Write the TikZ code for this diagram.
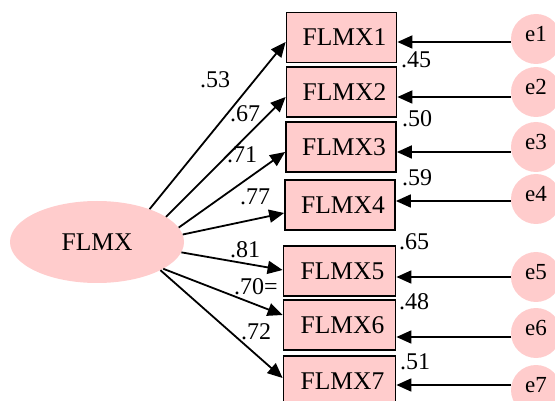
\documentclass[tikz,border=0pt]{standalone}
\usepackage{fontspec}
\setmainfont{Liberation Serif}
\usetikzlibrary{arrows.meta,shapes.geometric}
\definecolor{nodepink}{HTML}{FFCCCC}
\tikzset{
  obsbox/.style={draw=black, line width=1.8pt, fill=nodepink, minimum width=110pt,
    minimum height=50pt, inner sep=0pt, font=\fontsize{25.5}{25.5}\selectfont},
  latent/.style={ellipse, fill=nodepink, minimum width=174pt, minimum height=82pt,
    inner sep=0pt, font=\fontsize{25.5}{25.5}\selectfont},
  errnode/.style={circle, fill=nodepink, minimum size=50pt, inner sep=0pt,
    text depth=10pt, font=\fontsize{23}{23}\selectfont},
  path arrow/.style={line width=1.8pt, -{Triangle[length=15pt,width=13pt]}},
  coef/.style={inner sep=0pt, font=\fontsize{24}{24}\selectfont},
}
\begin{document}
\begin{tikzpicture}[x=1pt,y=-1pt]
\useasboundingbox (0,0) rectangle (555,401);
\clip (0,0) rectangle (555,401);

% latent factor
\node[latent] (fl) at (97,242) {FLMX};

% observed indicators
\node[obsbox] (b1) at (341.5,37.5) {\hspace{6pt}FLMX1};
\node[obsbox] (b2) at (341.5,92) {\hspace{6pt}FLMX2};
\node[obsbox] (b3) at (341,147) {\hspace{6pt}FLMX3};
\node[obsbox] (b4) at (340,205) {\hspace{6pt}FLMX4};
\node[obsbox, minimum width=112pt] (b5) at (339.5,271) {\hspace{6pt}FLMX5};
\node[obsbox, minimum width=112pt] (b6) at (339.5,325) {\hspace{6pt}FLMX6};
\node[obsbox, minimum width=112pt] (b7) at (339.5,381) {\hspace{6pt}FLMX7};

% error terms
\node[errnode] (e1) at (536,39) {e1};
\node[errnode] (e2) at (536,92) {e2};
\node[errnode] (e3) at (536,147) {e3};
\node[errnode] (e4) at (536,199) {e4};
\node[errnode] (e5) at (536,277) {e5};
\node[errnode] (e6) at (536,333) {e6};
\node[errnode] (e7) at (536,390) {e7};

% factor loadings
\draw[path arrow] (fl.32)  -- ([yshift=-4.5pt]b1.west);
\draw[path arrow] (fl.20)  -- ([yshift=-5pt]b2.west);
\draw[path arrow] (fl.10)  -- ([yshift=-5pt]b3.west);
\draw[path arrow] (fl.5)   -- ([yshift=-8pt]b4.west);
\draw[path arrow] (fl.-7)  -- ([yshift=1pt]b5.west);
\draw[path arrow] (fl.-22) -- ([yshift=10pt]b6.west);
\draw[path arrow] (fl.-24) -- ([yshift=3pt]b7.west);

% error paths
\coordinate (s1) at ([yshift=-3pt]e1.west);
\coordinate (s2) at ([yshift=-5pt]e2.west);
\coordinate (s3) at ([yshift=-5pt]e3.west);
\coordinate (s4) at ([yshift=-2pt]e4.west);
\coordinate (s5) at (e5.west);
\coordinate (s6) at ([yshift=-4pt]e6.west);
\coordinate (s7) at ([yshift=5pt]e7.west);
\draw[path arrow] (s1) -- (s1 -| b1.east);
\draw[path arrow] (s2) -- (s2 -| b2.east);
\draw[path arrow] (s3) -- (s3 -| b3.east);
\draw[path arrow] (s4) -- (s4 -| b4.east);
\draw[path arrow] (s5) -- (s5 -| b5.east);
\draw[path arrow] (s6) -- (s6 -| b6.east);
\draw[path arrow] (s7) -- (s7 -| b7.east);

% standardized loadings
\node[coef] (l1) at (215,80)  {.53};
\node[coef] (l2) at (245,114) {.67};
\node[coef] (l3) at (242,155) {.71};
\node[coef] (l4) at (255,197) {.77};
\node[coef] (l5) at (245,250) {.81};
\node[coef] (l6) at (256,287) {.70=};
\node[coef] (l7) at (256,332) {.72};

% squared multiple correlations
\node[coef] (r1) at (416,60)  {.45};
\node[coef] (r2) at (417,119) {.50};
\node[coef] (r3) at (417,178) {.59};
\node[coef] (r4) at (414,242) {.65};
\node[coef] (r5) at (414,302) {.48};
\node[coef] (r6) at (415,362) {.51};
\end{tikzpicture}
\end{document}
